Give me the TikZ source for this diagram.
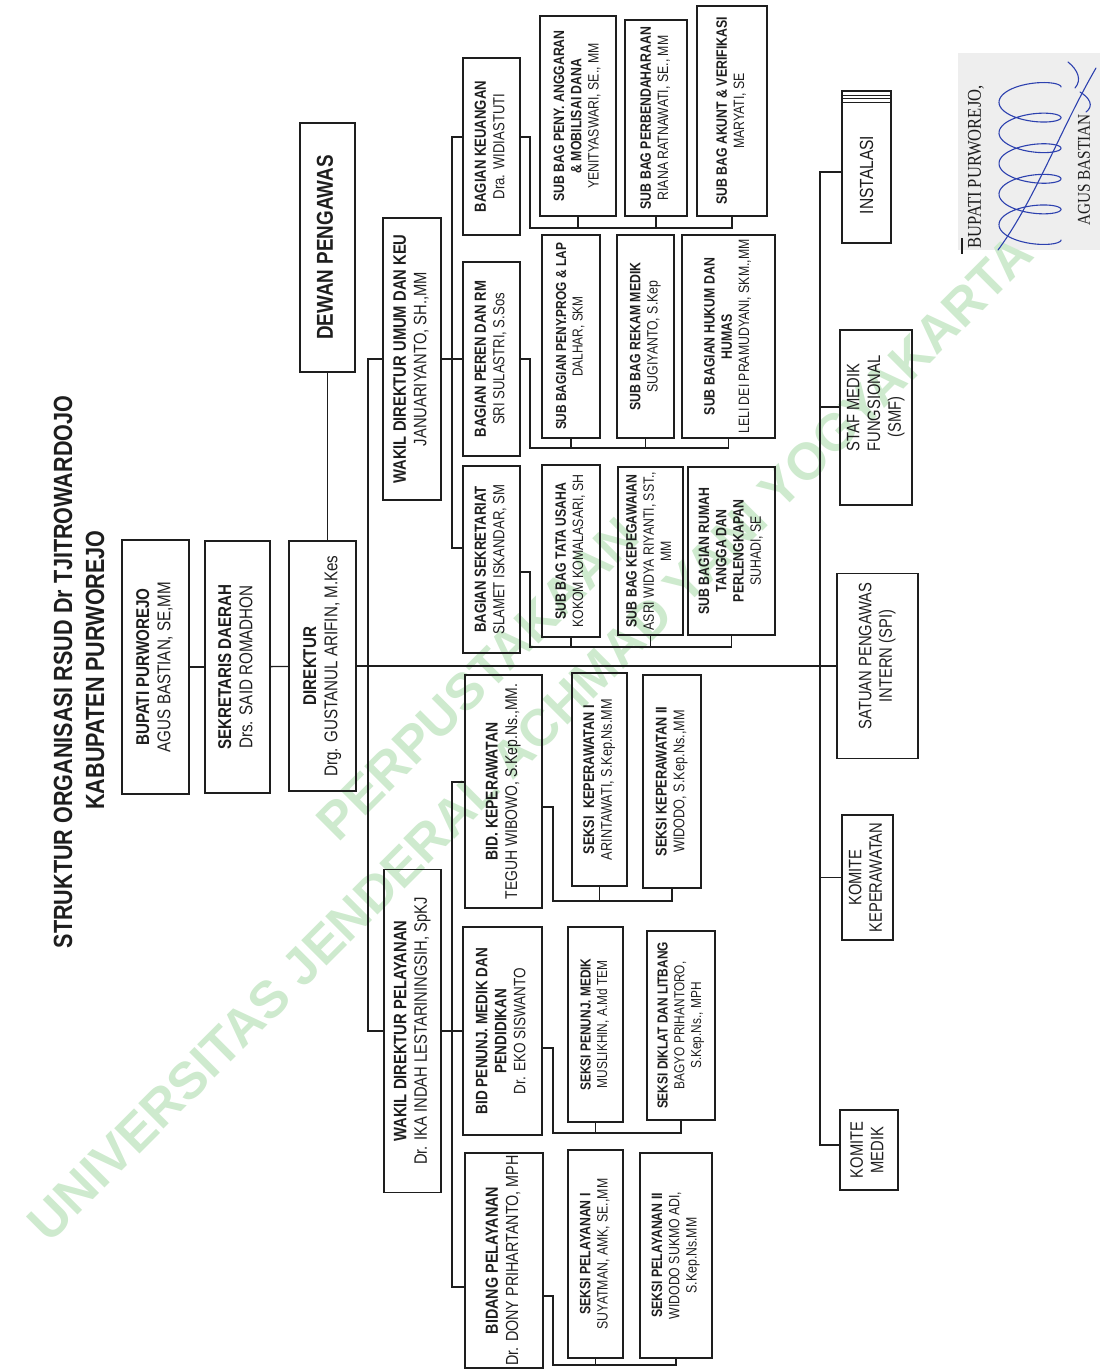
\documentclass[tikz,border=0pt]{standalone}
\usepackage{fontspec}
\usepackage{graphicx}
\setmainfont{Liberation Sans}[FakeStretch=0.82]
\newfontfamily\wmfont{Liberation Sans}
\newfontfamily\sigfont{Liberation Serif}[FakeStretch=0.85]
\newcommand\fs[1]{\fontsize{#1}{\fpeval{#1*1.15}}\selectfont}
\newcommand\rtx[1]{\rotatebox{90}{\begin{tabular}{@{}c@{}}#1\end{tabular}}}
\definecolor{wm}{RGB}{206,234,206}
\definecolor{ink}{RGB}{30,30,30}
\definecolor{sigblue}{RGB}{45,65,175}
\definecolor{patch}{RGB}{238,238,238}
\newcommand\obox[6]{\node[box,minimum width=#3pt,minimum height=#4pt,font=\fs{#5}] (#1) at (#2) {\rtx{#6}};}
\begin{document}
\begin{tikzpicture}[x=1pt,y=-1pt,
  box/.style={draw=ink, line width=1.6pt, inner sep=0pt, align=center, text=ink},
  wire/.style={draw=ink, line width=1.3pt},
  sig/.style={draw=sigblue, line width=1.1pt, line cap=round, line join=round}]
\useasboundingbox (0,0) rectangle (1102,1371);
% signature patch
\fill[patch] (958,53) rectangle (1100,250);
% watermark
\node[rotate=45, text=wm, inner sep=0, font={\wmfont\bfseries\fontsize{52}{60}\selectfont}] (wm2) at (530,738) {UNIVERSITAS JENDERAL ACHMAD YANI YOGYAKARTA};
\node[rotate=45, text=wm, inner sep=0, font={\wmfont\bfseries\fontsize{52}{60}\selectfont}] (wm1) at (478,679) {PERPUSTAKAAN};
% title
\node[inner sep=0, text=ink] (title1) at (63,672) {\rotatebox{90}{\fs{26.3}\bfseries STRUKTUR ORGANISASI RSUD Dr TJITROWARDOJO}};
\node[inner sep=0, text=ink] (title2) at (95,670) {\rotatebox{90}{\fs{26.3}\bfseries KABUPATEN PURWOREJO}};
% boxes
\obox{bupati}{155.5,667}{67}{254}{18.5}{\textbf{BUPATI PURWOREJO}\\AGUS BASTIAN, SE,MM}
\obox{sekda}{237.5,667}{65}{252}{18.5}{\textbf{SEKRETARIS DAERAH}\\Drs. SAID ROMADHON}
\obox{direktur}{322.5,666}{67}{250}{18.5}{\textbf{DIREKTUR}\\Drg. GUSTANUL ARIFIN, M.Kes}
\obox{dewan}{327.5,247.5}{55}{249}{23}{\textbf{DEWAN PENGAWAS}}
\obox{wadirumum}{412,359}{58}{282}{18}{\textbf{WAKIL DIREKTUR UMUM DAN KEU}\\JANUARIYANTO, SH.,MM}
\obox{keuangan}{491.5,146.5}{57}{177}{16}{\textbf{BAGIAN KEUANGAN}\\Dra. WIDIASTUTI}
\obox{peren}{491.5,359}{57}{194}{16}{\textbf{BAGIAN PEREN DAN RM}\\SRI SULASTRI, S.Sos}
\obox{sekretariat}{491.5,559.5}{57}{187}{16}{\textbf{BAGIAN SEKRETARIAT}\\SLAMET ISKANDAR, SM}
\obox{anggaran}{578,116}{76}{200}{15}{\textbf{SUB BAG PENY. ANGGARAN}\\\textbf{\& MOBILISAI DANA}\\YENITYASWARI, SE., MM}
\obox{perbend}{656,118}{62}{196}{15}{\textbf{SUB BAG PERBENDAHARAAN}\\RIANA RATNAWATI, SE., MM}
\obox{akunt}{732,111}{70}{210}{15}{\textbf{SUB BAG AKUNT \& VERIFIKASI}\\MARYATI, SE}
\obox{penyprog}{571,336.5}{58}{203}{14.5}{\textbf{SUB BAGIAN PENY.PROG \& LAP}\\DALHAR, SKM}
\obox{rekam}{645.5,336.5}{57}{203}{15}{\textbf{SUB BAG REKAM MEDIK}\\SUGIYANTO, S.Kep}
\obox{hukum}{728.5,336.5}{93}{203}{15}{\textbf{SUB BAGIAN HUKUM DAN}\\\textbf{HUMAS}\\LELI DEI PRAMUDYANI, SKM.,MM}
\obox{tatausaha}{571,551}{58}{172}{15}{\textbf{SUB BAG TATA USAHA}\\KOKOM KOMALASARI, SH}
\obox{kepeg}{650.5,551}{65}{168}{15}{\textbf{SUB BAG KEPEGAWAIAN}\\ASRI WIDYA RIYANTI, SST.,\\MM}
\obox{rumahtangga}{731.5,551}{87}{168}{15}{\textbf{SUB BAGIAN RUMAH}\\\textbf{TANGGA DAN}\\\textbf{PERLENGKAPAN}\\SUHADI, SE}
\obox{wadirpel}{412.5,1031}{57}{323}{18}{\textbf{WAKIL DIREKTUR PELAYANAN}\\Dr. IKA INDAH LESTARININGSIH, SpKJ}
\obox{bidkep}{503.5,791.5}{77}{233}{17}{\textbf{BID. KEPERAWATAN}\\TEGUH WIBOWO, S.Kep.Ns.,MM.}
\obox{seksikep1}{599.5,779.5}{55}{213}{15.5}{\textbf{SEKSI\ \ KEPERAWATAN I}\\ARINTAWATI, S.Kep.Ns.MM}
\obox{seksikep2}{672,781.5}{58}{213}{15.5}{\textbf{SEKSI KEPERAWATAN II}\\WIDODO, S.Kep.Ns.,MM}
\obox{bidpenunj}{502.5,1031}{79}{208}{16.5}{\textbf{BID PENUNJ. MEDIK DAN}\\\textbf{PENDIDIKAN}\\Dr. EKO SISWANTO}
\obox{seksipenunj}{595.5,1024.5}{55}{195}{14.5}{\textbf{SEKSI PENUNJ. MEDIK}\\MUSLIKHIN, A.Md TEM}
\obox{diklat}{681,1025.5}{68}{189}{14.5}{\textbf{SEKSI DIKLAT DAN LITBANG}\\BAGYO PRIHANTORO,\\S.Kep.Ns., MPH}
\obox{bidpel}{504,1260.5}{78}{215}{17.5}{\textbf{BIDANG PELAYANAN}\\Dr. DONY PRIHARTANTO, MPH}
\obox{seksipel1}{595.5,1254}{55}{208}{15}{\textbf{SEKSI PELAYANAN I}\\SUYATMAN, AMK, SE.,MM}
\obox{seksipel2}{676,1255.5}{72}{205}{15}{\textbf{SEKSI PELAYANAN II}\\WIDODO SUKMO ADI,\\S.Kep.Ns.MM}
\node[box, line width=2.4pt, minimum width=49pt, minimum height=152pt, font=\fs{19}] (instalasi) at (866.5,167) {\rotatebox{90}{INSTALASI\hspace*{16pt}}};
\foreach \yy in {95,98.5,102} \draw[ink, line width=1pt] (instalasi.west |- 0,\yy) -- (instalasi.east |- 0,\yy);
\node[box, minimum width=72pt, minimum height=175pt, font=\fs{18}] (smf) at (876,417.5) {\rotatebox{90}{\hspace*{28pt}\begin{tabular}{@{}l@{}}STAF MEDIK\\FUNGSIONAL\\\hspace*{14pt}(SMF)\end{tabular}}};
\node[box, minimum width=81pt, minimum height=185pt, font=\fs{18}] (spi) at (877.5,666) {\rotatebox{90}{\hspace*{20pt}\begin{tabular}{@{}c@{}}SATUAN PENGAWAS\\INTERN (SPI)\end{tabular}}};
\obox{komkep}{867.5,877.5}{51}{125}{18}{KOMITE\\KEPERAWATAN}
\obox{kommed}{869,1150}{58}{80}{18}{KOMITE\\MEDIK}
% coordinates
\coordinate (lt) at (368,666);
\coordinate (ub) at (452,0);
\coordinate (kbus) at (530,228);
\coordinate (pbus) at (530,448);
\coordinate (sbus) at (530,647);
\coordinate (kpbus) at (553,901);
\coordinate (nbus) at (553,1133);
\coordinate (lbus) at (553,1365);
\coordinate (rt) at (820,0);
\coordinate (kw) at ([yshift=9.5pt]keuangan.west);
\coordinate (ke) at ([yshift=9.5pt]keuangan.east);
\coordinate (sw) at ([yshift=11.5pt]sekretariat.west);
\coordinate (se) at ([yshift=-12.5pt]sekretariat.east);
\coordinate (bkw) at ([yshift=9.5pt]bidkep.west);
\coordinate (bke) at ([yshift=-15.5pt]bidkep.east);
\coordinate (bne) at ([yshift=-17pt]bidpenunj.east);
\coordinate (bpw) at ([yshift=-26.5pt]bidpel.west);
\coordinate (ble) at ([yshift=-35.5pt]bidpel.east);
\coordinate (insw) at ([yshift=-5pt]instalasi.west);
\coordinate (smfw) at ([yshift=10.5pt]smf.west);
\coordinate (kmw) at ([yshift=5pt]kommed.west);
% connectors
\draw[wire] (bupati) -- (sekda);
\draw[wire] (sekda) -- (direktur);
\draw[wire] (dewan.south) -- (dewan.south |- direktur.north);
\draw[wire] (direktur.east) -- (direktur.east -| spi.west);
\draw[wire] (wadirumum.west) -- (wadirumum.west -| lt) -- (lt |- wadirpel.west) -- (wadirpel.west);
\draw[wire] (wadirumum.east) -- (peren.west);
\draw[wire] (kw) -- (kw -| ub) -- (sw -| ub) -- (sw);
\draw[wire] (ke) -- (ke -| kbus) -- (kbus) -- (kbus -| akunt.south) -- (akunt.south);
\draw[wire] (anggaran.south) -- (anggaran.south |- kbus);
\draw[wire] (perbend.south) -- (perbend.south |- kbus);
\draw[wire] (peren.east) -- (peren.east -| pbus) -- (pbus) -- (pbus -| hukum.south) -- (hukum.south);
\draw[wire] (penyprog.south) -- (penyprog.south |- pbus);
\draw[wire] (rekam.south) -- (rekam.south |- pbus);
\draw[wire] (se) -- (se -| sbus) -- (sbus) -- (sbus -| rumahtangga.south) -- (rumahtangga.south);
\draw[wire] (tatausaha.south) -- (tatausaha.south |- sbus);
\draw[wire] (kepeg.south) -- (kepeg.south |- sbus);
\draw[wire] (wadirpel.east) -- (bidpenunj.west);
\draw[wire] (bkw) -- (bkw -| ub) -- (bpw -| ub) -- (bpw);
\draw[wire] (bke) -- (bke -| kpbus) -- (kpbus) -- (kpbus -| seksikep2.south) -- (seksikep2.south);
\draw[wire] (seksikep1.south) -- (seksikep1.south |- kpbus);
\draw[wire] (bne) -- (bne -| nbus) -- (nbus) -- (nbus -| diklat.south) -- (diklat.south);
\draw[wire] (seksipenunj.south) -- (seksipenunj.south |- nbus);
\draw[wire] (ble) -- (ble -| lbus) -- (lbus) -- (lbus -| seksipel2.south) -- (seksipel2.south);
\draw[wire] (seksipel1.south) -- (seksipel1.south |- lbus);
\draw[wire] (insw) -- (insw -| rt) -- (rt |- kmw) -- (kmw);
\draw[wire] (smfw) -- (smfw -| rt);
\draw[wire] (komkep.west) -- (komkep.west -| rt);
% signature
\node[inner sep=0, text=ink] (sig1) at (976,167) {\rotatebox{90}{\sigfont\fs{19.5}BUPATI PURWOREJO,}};
\node[inner sep=0, text=ink] (sig2) at (1084,170) {\rotatebox{90}{\sigfont\fs{18}AGUS BASTIAN}};
\draw[ink, line width=1.2pt] (962,238) -- (962,254);
\draw[sig] plot[domain=0:1800, samples=260, variable=\t] ({1030+31*cos(\t)}, {240-0.085*\t+11*sin(\t)});
\draw[sig] (998,250) .. controls (1035,200) and (1060,130) .. (1096,68);
\draw[sig] (1068,62) .. controls (1078,70) and (1082,80) .. (1075,88);
\draw[sig] (1080,92) .. controls (1090,98) and (1094,106) .. (1086,112);
\end{tikzpicture}
\end{document}
